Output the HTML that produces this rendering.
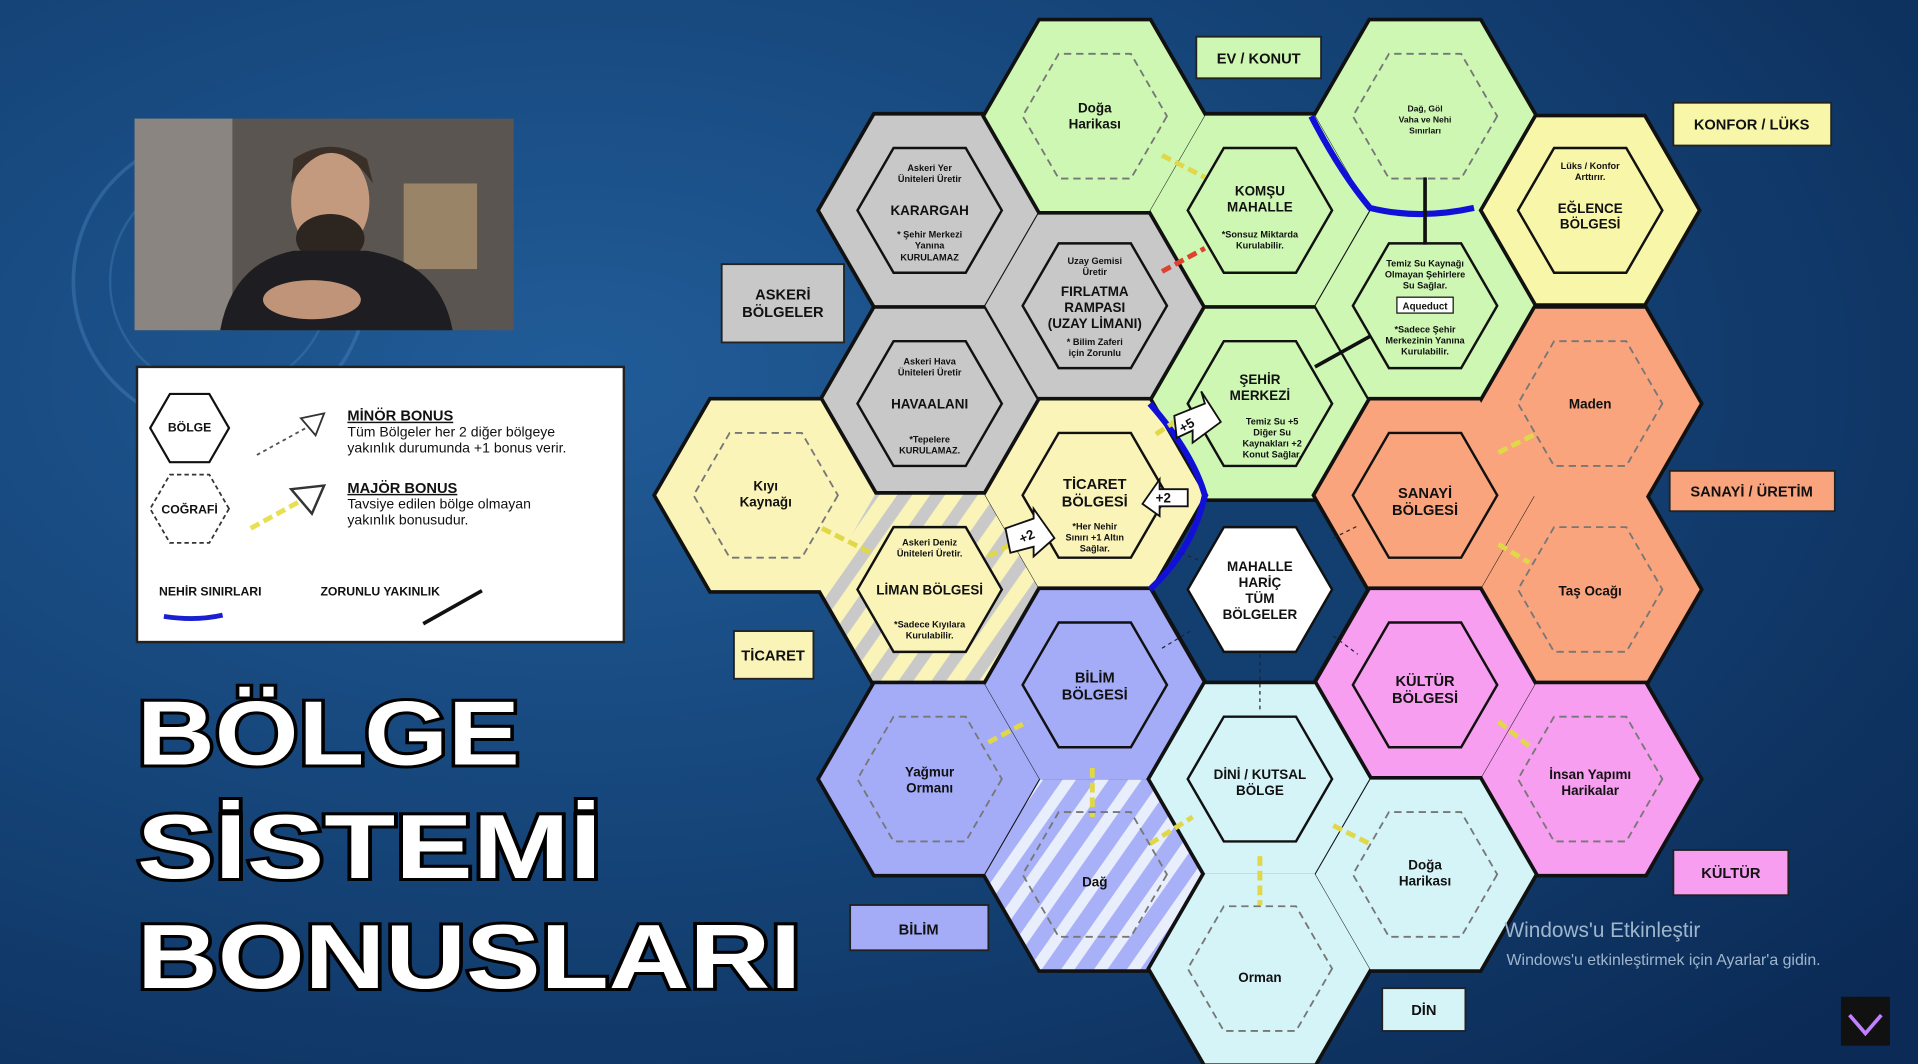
<!DOCTYPE html>
<html><head><meta charset="utf-8"><style>
html,body{margin:0;padding:0;background:#0f3566;}
svg{display:block}
text{font-family:"Liberation Sans",sans-serif;font-weight:bold;fill:#111;text-anchor:middle}
</style></head><body>
<svg width="1918" height="1064" viewBox="0 0 1568 870" preserveAspectRatio="none" xmlns="http://www.w3.org/2000/svg">
<defs>
<radialGradient id="bg" cx="0.3" cy="0.35" r="0.9">
<stop offset="0" stop-color="#215c98"/><stop offset="0.5" stop-color="#154478"/><stop offset="1" stop-color="#0b2a55"/>
</radialGradient>
<polygon id="H" points="89.5,0 44.75,77.5 -44.75,77.5 -89.5,0 -44.75,-77.5 44.75,-77.5"/>
<polygon id="h" points="59,0 29.5,51 -29.5,51 -59,0 -29.5,-51 29.5,-51"/>
<pattern id="ls" width="22" height="22" patternUnits="userSpaceOnUse" patternTransform="rotate(35)">
<rect width="22" height="22" fill="#faf4b8"/><rect width="10" height="22" fill="#c9c9c9"/></pattern>
<pattern id="ds" width="22" height="22" patternUnits="userSpaceOnUse" patternTransform="rotate(35)">
<rect width="22" height="22" fill="#a8b0f8"/><rect width="9" height="22" fill="#e8eefc"/></pattern>
</defs>
<rect width="1568" height="870" fill="url(#bg)"/>
<circle cx="180" cy="230" r="120" fill="none" stroke="#4a86c0" stroke-width="3" opacity="0.4"/>
<circle cx="180" cy="230" r="90" fill="none" stroke="#4a86c0" stroke-width="2" opacity="0.35"/>

<!-- webcam -->
<rect x="110" y="97" width="310" height="173" fill="#5a5550"/>
<rect x="110" y="97" width="80" height="173" fill="#8a8580"/>
<rect x="330" y="150" width="60" height="70" fill="#9a8468"/>
<ellipse cx="270" cy="165" rx="32" ry="42" fill="#c49a7e"/>
<path d="M238 150 Q270 100 305 150 L300 130 Q270 110 240 130Z" fill="#3a3028"/>
<ellipse cx="270" cy="195" rx="28" ry="20" fill="#2d2520"/>
<path d="M180 270 Q190 215 240 205 L300 205 Q360 215 370 270Z" fill="#1e1e22"/>
<ellipse cx="255" cy="245" rx="40" ry="16" fill="#c09478"/>

<!-- legend -->
<rect x="112" y="300" width="398" height="225" fill="#fff" stroke="#222" stroke-width="2"/>
<g transform="translate(155,350) scale(0.36)"><use href="#H" fill="#fff" stroke="#111" stroke-width="5"/></g>
<text x="155" y="353" font-size="10">BÖLGE</text>
<g transform="translate(155,416) scale(0.36)"><use href="#H" fill="#fff" stroke="#333" stroke-width="4" stroke-dasharray="10 7"/></g>
<text x="155" y="420" font-size="10">COĞRAFİ</text>
<line x1="210" y1="372" x2="250" y2="350" stroke="#555" stroke-dasharray="3 3" stroke-width="1.5"/>
<polygon points="246,342 265,338 258,356" fill="#fff" stroke="#333" stroke-width="1.5"/>
<line x1="205" y1="432" x2="245" y2="410" stroke="#e8e050" stroke-dasharray="8 4" stroke-width="4"/>
<polygon points="238,400 265,397 255,420" fill="#fff" stroke="#333" stroke-width="2"/>
<text x="284" y="344" font-size="12" style="text-anchor:start;text-decoration:underline">MİNÖR BONUS</text>
<text x="284" y="357" font-size="11.5" style="text-anchor:start;font-weight:normal">Tüm Bölgeler her 2 diğer bölgeye</text>
<text x="284" y="370" font-size="11.5" style="text-anchor:start;font-weight:normal">yakınlık durumunda +1 bonus verir.</text>
<text x="284" y="403" font-size="12" style="text-anchor:start;text-decoration:underline">MAJÖR BONUS</text>
<text x="284" y="416" font-size="11.5" style="text-anchor:start;font-weight:normal">Tavsiye edilen bölge olmayan</text>
<text x="284" y="429" font-size="11.5" style="text-anchor:start;font-weight:normal">yakınlık bonusudur.</text>
<text x="130" y="487" font-size="10" style="text-anchor:start">NEHİR SINIRLARI</text>
<text x="262" y="487" font-size="10" style="text-anchor:start">ZORUNLU YAKINLIK</text>
<path d="M134 504 Q160 508 182 503" stroke="#1a20d0" stroke-width="4" fill="none"/>
<line x1="346" y1="510" x2="394" y2="483" stroke="#111" stroke-width="3"/>

<!-- title -->
<g style="font-family:'Liberation Sans',sans-serif;font-weight:bold;font-size:74px" stroke="#000" stroke-width="5" paint-order="stroke" fill="#fff">
<text x="112" y="625" textLength="313" lengthAdjust="spacingAndGlyphs" style="text-anchor:start;fill:#fff">BÖLGE</text>
<text x="112" y="718" textLength="380" lengthAdjust="spacingAndGlyphs" style="text-anchor:start;fill:#fff">SİSTEMİ</text>
<text x="112" y="808" textLength="543" lengthAdjust="spacingAndGlyphs" style="text-anchor:start;fill:#fff">BONUSLARI</text>
</g>

<!-- outer hexes: per region, stroke then fill -->
<!-- mahalle -->
<use href="#H" x="1030" y="482" fill="#123f70" stroke="#111" stroke-width="5"/>
<!-- gray -->
<g stroke="#111" stroke-width="6"><use href="#H" x="760" y="172"/><use href="#H" x="760" y="330"/><use href="#H" x="895" y="250"/></g>
<g fill="#c8c8c8"><use href="#H" x="760" y="172"/><use href="#H" x="760" y="330"/><use href="#H" x="895" y="250"/></g>
<!-- green -->
<g stroke="#111" stroke-width="6"><use href="#H" x="895" y="95"/><use href="#H" x="1030" y="172"/><use href="#H" x="1165" y="95"/><use href="#H" x="1030" y="330"/><use href="#H" x="1165" y="250"/></g>
<g fill="#cdf7b2"><use href="#H" x="895" y="95"/><use href="#H" x="1030" y="172"/><use href="#H" x="1165" y="95"/><use href="#H" x="1030" y="330"/><use href="#H" x="1165" y="250"/></g>
<!-- eglence -->
<use href="#H" x="1300" y="172" fill="#f8f6a8" stroke="#111" stroke-width="3"/>
<!-- yellow -->
<g stroke="#111" stroke-width="6"><use href="#H" x="626" y="405"/><use href="#H" x="895" y="405"/><use href="#H" x="760" y="482"/></g>
<use href="#H" x="626" y="405" fill="#faf4b8"/><use href="#H" x="895" y="405" fill="#faf4b8"/><use href="#H" x="760" y="482" fill="url(#ls)"/>
<!-- orange -->
<g stroke="#111" stroke-width="6"><use href="#H" x="1165" y="405"/><use href="#H" x="1300" y="330"/><use href="#H" x="1300" y="482"/></g>
<g fill="#f9a47c"><use href="#H" x="1165" y="405"/><use href="#H" x="1300" y="330"/><use href="#H" x="1300" y="482"/></g>
<!-- pink -->
<g stroke="#111" stroke-width="6"><use href="#H" x="1165" y="560"/><use href="#H" x="1300" y="637"/></g>
<g fill="#f79ef0"><use href="#H" x="1165" y="560"/><use href="#H" x="1300" y="637"/></g>
<!-- blue -->
<g stroke="#111" stroke-width="6"><use href="#H" x="895" y="560"/><use href="#H" x="760" y="637"/><use href="#H" x="895" y="715"/></g>
<use href="#H" x="895" y="560" fill="#a4acf8"/><use href="#H" x="760" y="637" fill="#a4acf8"/><use href="#H" x="895" y="715" fill="url(#ds)"/>
<!-- cyan -->
<g stroke="#111" stroke-width="6"><use href="#H" x="1030" y="637"/><use href="#H" x="1165" y="715"/><use href="#H" x="1030" y="792"/></g>
<g fill="#d4f4f8"><use href="#H" x="1030" y="637"/><use href="#H" x="1165" y="715"/><use href="#H" x="1030" y="792"/></g>

<!-- river + connectors -->
<path d="M1072 95 Q1095 140 1120 170 Q1160 180 1205 170" stroke="#1010d8" stroke-width="5" fill="none"/>
<path d="M940 330 Q975 370 985 405 Q975 450 940 482" stroke="#1010d8" stroke-width="5" fill="none"/>
<line x1="1165" y1="145" x2="1165" y2="200" stroke="#111" stroke-width="3"/>
<line x1="1075" y1="300" x2="1120" y2="275" stroke="#111" stroke-width="3"/>
<g stroke="#e0d848" stroke-width="4" stroke-dasharray="8 4">
<line x1="950" y1="127" x2="985" y2="145"/>
<line x1="672" y1="432" x2="712" y2="452"/>
<line x1="808" y1="455" x2="835" y2="440"/>
<line x1="808" y1="607" x2="840" y2="590"/>
<line x1="893" y1="628" x2="893" y2="668"/>
<line x1="940" y1="690" x2="975" y2="668"/>
<line x1="1090" y1="675" x2="1120" y2="690"/>
<line x1="1030" y1="700" x2="1030" y2="740"/>
<line x1="1225" y1="370" x2="1255" y2="355"/>
<line x1="1225" y1="445" x2="1250" y2="460"/>
<line x1="1225" y1="590" x2="1250" y2="610"/>
<line x1="945" y1="355" x2="960" y2="345"/>
</g>
<line x1="950" y1="222" x2="985" y2="203" stroke="#e04030" stroke-width="4" stroke-dasharray="8 4"/>
<g stroke="#223" stroke-width="1" stroke-dasharray="3 3">
<line x1="960" y1="450" x2="985" y2="460"/><line x1="1090" y1="440" x2="1110" y2="430"/>
<line x1="950" y1="530" x2="975" y2="515"/><line x1="1090" y1="520" x2="1110" y2="535"/>
<line x1="1030" y1="535" x2="1030" y2="580"/>
</g>

<!-- inner hexes: districts -->
<g fill="none" stroke="#111" stroke-width="2">
<use href="#h" x="760" y="172"/><use href="#h" x="760" y="330"/><use href="#h" x="895" y="250"/>
<use href="#h" x="1030" y="172"/><use href="#h" x="1030" y="330"/><use href="#h" x="1165" y="250"/>
<use href="#h" x="1300" y="172"/><use href="#h" x="895" y="405"/>
<use href="#h" x="1165" y="405"/><use href="#h" x="1165" y="560"/><use href="#h" x="895" y="560"/>
<use href="#h" x="1030" y="637"/>
</g>
<use href="#h" x="760" y="482" fill="#faf4b8" stroke="#111" stroke-width="2"/>
<use href="#h" x="1030" y="482" fill="#fff" stroke="#111" stroke-width="2"/>
<g fill="none" stroke="#777" stroke-width="1.5" stroke-dasharray="6 4">
<use href="#h" x="895" y="95"/><use href="#h" x="1165" y="95"/><use href="#h" x="626" y="405"/>
<use href="#h" x="1300" y="330"/><use href="#h" x="1300" y="482"/><use href="#h" x="1300" y="637"/>
<use href="#h" x="760" y="637"/><use href="#h" x="895" y="715"/><use href="#h" x="1165" y="715"/><use href="#h" x="1030" y="792"/>
</g>

<!-- bonus arrows -->
<g fill="#fff" stroke="#111" stroke-width="1.5">
<polygon points="960,340 985,330 982,320 998,345 975,362 975,352 962,358"/>
<polygon points="935,396 958,396 958,388 972,398 958,418 958,410 935,410" transform="rotate(180 953 405)"/>
<polygon points="822,432 845,424 845,416 862,440 845,455 845,447 826,452"/>
</g>
<text x="972" y="351" font-size="11" transform="rotate(-30 972 351)">+5</text>
<text x="951" y="411" font-size="11">+2</text>
<text x="841" y="442" font-size="11" transform="rotate(-25 841 442)">+2</text>

<!-- texts in hexes -->
<g font-size="11">
<text x="895" y="92">Doğa</text><text x="895" y="105">Harikası</text>
<text x="1165" y="91" font-size="7">Dağ, Göl</text><text x="1165" y="100" font-size="7">Vaha ve Nehi</text><text x="1165" y="109" font-size="7">Sınırları</text>
<text x="760" y="140" font-size="7.5">Askeri Yer</text><text x="760" y="149" font-size="7.5">Üniteleri Üretir</text>
<text x="760" y="176">KARARGAH</text>
<text x="760" y="194" font-size="7.5">* Şehir Merkezi</text><text x="760" y="203" font-size="7.5">Yanına</text><text x="760" y="213" font-size="7.5">KURULAMAZ</text>
<text x="895" y="216" font-size="7.5">Uzay Gemisi</text><text x="895" y="225" font-size="7.5">Üretir</text>
<text x="895" y="242">FIRLATMA</text><text x="895" y="255">RAMPASI</text><text x="895" y="268">(UZAY LİMANI)</text>
<text x="895" y="282" font-size="7.5">* Bilim Zaferi</text><text x="895" y="291" font-size="7.5">için Zorunlu</text>
<text x="760" y="298" font-size="7.5">Askeri Hava</text><text x="760" y="307" font-size="7.5">Üniteleri Üretir</text>
<text x="760" y="334">HAVAALANI</text>
<text x="760" y="362" font-size="7.5">*Tepelere</text><text x="760" y="371" font-size="7.5">KURULAMAZ.</text>
<text x="1030" y="160">KOMŞU</text><text x="1030" y="173">MAHALLE</text>
<text x="1030" y="194" font-size="7.5">*Sonsuz Miktarda</text><text x="1030" y="203" font-size="7.5">Kurulabilir.</text>
<text x="1165" y="218" font-size="7.5">Temiz Su Kaynağı</text><text x="1165" y="227" font-size="7.5">Olmayan Şehirlere</text><text x="1165" y="236" font-size="7.5">Su Sağlar.</text>
<rect x="1142" y="243" width="46" height="13" fill="#fff" stroke="#111" stroke-width="1"/>
<text x="1165" y="253" font-size="8">Aqueduct</text>
<text x="1165" y="272" font-size="7.5">*Sadece Şehir</text><text x="1165" y="281" font-size="7.5">Merkezinin Yanına</text><text x="1165" y="290" font-size="7.5">Kurulabilir.</text>
<text x="1300" y="138" font-size="7.5">Lüks / Konfor</text><text x="1300" y="147" font-size="7.5">Arttırır.</text>
<text x="1300" y="174">EĞLENCE</text><text x="1300" y="187">BÖLGESİ</text>
<text x="1030" y="314">ŞEHİR</text><text x="1030" y="327">MERKEZİ</text>
<text x="1040" y="347" font-size="7.5">Temiz Su +5</text><text x="1040" y="356" font-size="7.5">Diğer Su</text><text x="1040" y="365" font-size="7.5">Kaynakları +2</text><text x="1040" y="374" font-size="7.5">Konut Sağlar.</text>
<text x="626" y="401">Kıyı</text><text x="626" y="414">Kaynağı</text>
<text x="895" y="400" font-size="12">TİCARET</text><text x="895" y="414" font-size="12">BÖLGESİ</text>
<text x="895" y="433" font-size="7.5">*Her Nehir</text><text x="895" y="442" font-size="7.5">Sınırı +1 Altın</text><text x="895" y="451" font-size="7.5">Sağlar.</text>
<text x="760" y="446" font-size="7.5">Askeri Deniz</text><text x="760" y="455" font-size="7.5">Üniteleri Üretir.</text>
<text x="760" y="486">LİMAN BÖLGESİ</text>
<text x="760" y="513" font-size="7.5">*Sadece Kıyılara</text><text x="760" y="522" font-size="7.5">Kurulabilir.</text>
<text x="1030" y="467">MAHALLE</text><text x="1030" y="480">HARİÇ</text><text x="1030" y="493">TÜM</text><text x="1030" y="506">BÖLGELER</text>
<text x="1300" y="334">Maden</text>
<text x="1165" y="407" font-size="12">SANAYİ</text><text x="1165" y="421" font-size="12">BÖLGESİ</text>
<text x="1300" y="487">Taş Ocağı</text>
<text x="1165" y="561" font-size="12">KÜLTÜR</text><text x="1165" y="575" font-size="12">BÖLGESİ</text>
<text x="1300" y="637">İnsan Yapımı</text><text x="1300" y="650">Harikalar</text>
<text x="895" y="558" font-size="12">BİLİM</text><text x="895" y="572" font-size="12">BÖLGESİ</text>
<text x="760" y="635">Yağmur</text><text x="760" y="648">Ormanı</text>
<text x="1030" y="637">DİNİ / KUTSAL</text><text x="1030" y="650">BÖLGE</text>
<text x="895" y="725">Dağ</text>
<text x="1165" y="711">Doğa</text><text x="1165" y="724">Harikası</text>
<text x="1030" y="803">Orman</text>
</g>

<!-- category labels -->
<g stroke="#222" stroke-width="1.5">
<rect x="978" y="30" width="102" height="34" fill="#cdf7b2"/>
<rect x="1368" y="84" width="129" height="35" fill="#f8f6a8"/>
<rect x="590" y="216" width="100" height="64" fill="#c8c8c8"/>
<rect x="1365" y="385" width="135" height="33" fill="#f9a47c"/>
<rect x="600" y="516" width="65" height="39" fill="#faf4b8"/>
<rect x="1368" y="695" width="94" height="37" fill="#f79ef0"/>
<rect x="695" y="740" width="113" height="37" fill="#a4acf8"/>
<rect x="1130" y="808" width="68" height="35" fill="#d4f4f8"/>
</g>
<g font-size="12">
<text x="1029" y="52">EV / KONUT</text>
<text x="1432" y="106">KONFOR / LÜKS</text>
<text x="640" y="245">ASKERİ</text><text x="640" y="259">BÖLGELER</text>
<text x="1432" y="406">SANAYİ / ÜRETİM</text>
<text x="632" y="540">TİCARET</text>
<text x="1415" y="718">KÜLTÜR</text>
<text x="751" y="764">BİLİM</text>
<text x="1164" y="830">DİN</text>
</g>

<text x="1310" y="766" font-size="17" style="font-weight:normal;fill:#9fb6cc">Windows'u Etkinleştir</text>
<text x="1360" y="789" font-size="13" style="font-weight:normal;fill:#9fb6cc">Windows'u etkinleştirmek için Ayarlar'a gidin.</text>
<rect x="1505" y="815" width="40" height="40" fill="#111"/>
<path d="M1512 830 L1525 845 L1538 830" stroke="#c080ff" stroke-width="3" fill="none"/>
</svg>
</body></html>
